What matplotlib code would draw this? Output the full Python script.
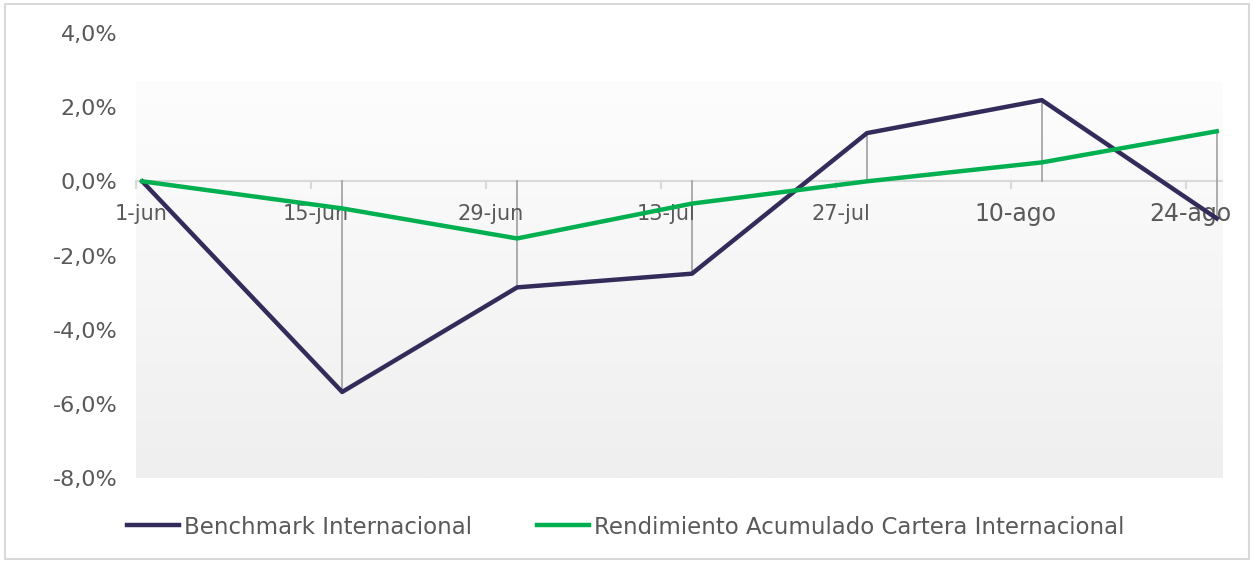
import matplotlib
matplotlib.use("Agg")
import matplotlib.pyplot as plt
import matplotlib.dates as mdates
from matplotlib.patches import Rectangle
from matplotlib.colors import LinearSegmentedColormap
import numpy as np

plt.rcParams['font.family'] = ['DejaVu Sans']

# data (cumulative return, %)
dates = ['2020-06-01', '2020-06-17', '2020-07-01', '2020-07-15',
         '2020-07-29', '2020-08-12', '2020-08-26']
benchmark = [0.0, -5.68, -2.86, -2.49, 1.30, 2.19, -1.00]
cartera = [0.0, -0.73, -1.54, -0.60, 0.0, 0.51, 1.35]
series_names = ['Benchmark Internacional', 'Rendimiento Acumulado Cartera Internacional']

tick_dates = ['2020-06-01', '2020-06-15', '2020-06-29', '2020-07-13',
              '2020-07-27', '2020-08-10', '2020-08-24']
tick_labels = ['1-jun', '15-jun', '29-jun', '13-jul', '27-jul', '10-ago', '24-ago']
tick_sizes = [15, 15, 15, 15, 15, 17, 17]

dark = '#332c5a'
green = '#00b050'
txt = '#595959'

W, H = 1254, 563
fig = plt.figure(figsize=(W / 100, H / 100), dpi=100)
ax = fig.add_axes([136 / W, 1 - 478 / H, (1223 - 136) / W, (478 - 33) / H])

# x in days, points sit at the middle of their day (Excel date axis)
x = mdates.date2num(np.array(dates, dtype='datetime64[D]')) + 0.5
xt = mdates.date2num(np.array(tick_dates, dtype='datetime64[D]'))
x0 = xt[0]
x1 = x0 + 87

# plot area background gradient (starts a bit below the top)
grad = np.linspace(0, 1, 256).reshape(-1, 1)
ax.imshow(grad, extent=[x0, x1, -8, 2.68], aspect='auto', zorder=0,
          cmap=LinearSegmentedColormap.from_list('g', ['#fdfdfd', '#efefef']),
          origin='upper')

# drop lines from every point to the axis
for xi, b, c in zip(x, benchmark, cartera):
    ax.plot([xi, xi], [min(0, b, c), max(0, b, c)], color='#a6a6a6', lw=1.3, zorder=2)

ax.axhline(0, color='#d9d9d9', lw=1.5, zorder=1)

ax.plot(x, benchmark, color=dark, lw=3.2, label=series_names[0], zorder=4)
ax.plot(x, cartera, color=green, lw=3.2, label=series_names[1], zorder=4)

ax.set_xlim(x0, x1)
ax.set_ylim(-8, 4)
for s in ax.spines.values():
    s.set_visible(False)

yt = np.arange(-8, 4.1, 2)
ax.set_yticks(yt)
ax.set_yticklabels([f"{v:.1f}%".replace('.', ',') for v in yt], fontsize=16, color=txt)
ax.tick_params(axis='y', length=0, pad=13.5)

# x ticks hang off the zero line
ax.set_xticks([])
for t, lab, fs in zip(xt, tick_labels, tick_sizes):
    ax.plot([t, t], [0, -0.18], color='#d9d9d9', lw=1.5, zorder=1, clip_on=False)
    ax.text(t + 0.4, -0.88, lab, ha='center', va='center', fontsize=fs,
            color=txt, zorder=3)

fpx = 16.5 * 100 / 72
fig.legend(loc='center left', bbox_to_anchor=(127 / W, 1 - 527 / H), ncol=2,
           frameon=False, fontsize=16.5, handlelength=52 / fpx, handletextpad=5 / fpx,
           columnspacing=65 / fpx, labelcolor=txt, borderpad=0, borderaxespad=0)

fig.add_artist(Rectangle((5 / W, 4 / H), 1244 / W, 555 / H, transform=fig.transFigure,
                         fill=False, edgecolor='#d9d9d9', lw=1.5))

fig.savefig('out.png', dpi=100)
